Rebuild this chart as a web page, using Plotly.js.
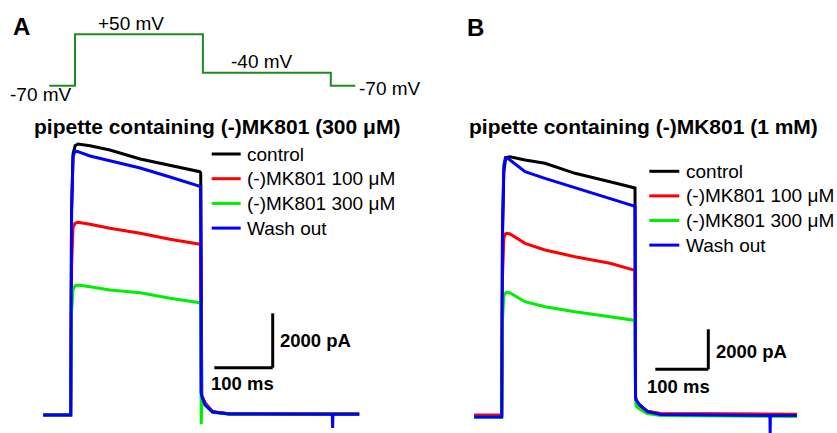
<!DOCTYPE html>
<html>
<head>
<meta charset="utf-8">
<script src="https://cdn.plot.ly/plotly-3.0.1.min.js"></script>
<style>html,body{margin:0;padding:0;background:#fff;}#chart{width:837px;height:433px;}</style>
</head>
<body>
<div id="chart"></div>
<script>
// ---------- DATA ----------
// Voltage protocol (ms, mV)
const protocolTime = [-44, 0, 0, 219, 219, 438, 438, 480];
const protocolVoltage = [-70, -70, 50, 50, -40, -40, -70, -70];
const protocolLabels = ["+50 mV", "-40 mV", "-70 mV", "-70 mV"];

const seriesNames = ["control", "(-)MK801 100 \u03bcM", "(-)MK801 300 \u03bcM", "Wash out"];
const seriesColors = ["#000000", "#ff0000", "#00ee00", "#0000ff"];

// Panel A: pipette containing (-)MK801 (300 uM); time (ms), current (pA)
const timeA = [-47, 0, 1.5, 4, 7.5, 12.5, 33, 67, 119, 170, 221, 222.6, 223.5, 224.5, 230, 243, 272, 448, 448.5, 449, 494];
const controlA = [0, 0, 7500, 9600, 9900, 9963, 9901, 9743, 9412, 9191, 8945, 8900, 820, 700, 440, 120, 40, 35, 35, 35, 35];
const mk100A   = [0, 0, 5500, 6900, 7050, 7085, 7011, 6864, 6680, 6460, 6276, 6250, 820, 700, 440, 120, 45, 40, 40, 40, 40];
const mk300A   = [0, 0, 3800, 4600, 4750, 4779, 4717, 4596, 4496, 4290, 4129, 4100, -340, 500, 380, 100, 30, 25, 25, 25, 25];
const washA    = [0, 0, 7500, 9500, 9706, 9680, 9522, 9357, 9081, 8750, 8430, 8400, 810, 690, 370, 110, 37, 30, -480, 30, 30];

// Panel B: pipette containing (-)MK801 (1 mM)
const timeB = [-52, 0, 1.5, 4, 7, 10, 15.7, 44, 81.7, 138.3, 204.3, 251, 251.5, 252.5, 253.5, 260, 275, 300, 506, 506.5, 507, 557];
const controlB = [0, 0, 9000, 12200, 12800, 12930, 12965, 12800, 12635, 12135, 11715, 11415, 11400, 950, 800, 550, 220, 100, 60, 60, 60, 60];
const mk100B   = [50, 50, 7000, 8900, 9100, 9135, 9100, 8635, 8300, 7965, 7635, 7300, 7280, 950, 800, 560, 240, 130, 90, 90, 90, 90];
const mk300B   = [-60, -60, 4800, 6000, 6150, 6185, 6150, 5715, 5465, 5215, 4965, 4800, 4780, 900, 500, 350, 120, 20, -30, -30, -30, -30];
const washB    = [-50, -50, 9500, 12500, 12915, 12900, 12800, 12215, 11885, 11415, 10885, 10500, 10480, 950, 800, 550, 220, 80, 20, -850, 20, 20];

const titleA = "pipette containing (-)MK801 (300 \u03bcM)";
const titleB = "pipette containing (-)MK801 (1 mM)";
const scaleTime = 100;   // ms
const scaleCurrent = 2000; // pA
const scaleTimeLabel = "100 ms";
const scaleCurrentLabel = "2000 pA";

// ---------- LAYOUT HELPERS ----------
const W = 837, H = 433;
const FONT = "Liberation Sans, Arial, Helvetica, sans-serif";
function xRange(px0, pxPerUnit) { return [(0 - px0) / pxPerUnit, (W - px0) / pxPerUnit]; }
function yRange(py0, pxPerUnit) { return [(py0 - H) / pxPerUnit, py0 / pxPerUnit]; }
function px(x) { return x / W; }
function py(y) { return 1 - y / H; }
function hidden(extra) { return Object.assign({visible: false, domain: [0, 1], fixedrange: true}, extra); }

// pixel mappings
const A = {x0: 70.7, sx: 0.584, y0: 415, sy: 0.0272};
const B = {x0: 501.7, sx: 0.53, y0: 416, sy: 0.020};
const P = {x0: 75, sx: 0.584, y0: 85.7 - 70 * 0.428, sy: 0.428};
const LW = 3;

const traces = [];
traces.push({x: protocolTime, y: protocolVoltage, xaxis: 'x3', yaxis: 'y3', mode: 'lines',
  line: {color: '#1f8a1f', width: 2}, showlegend: false, hoverinfo: 'skip'});

const dataA = [controlA, mk100A, mk300A, washA];
const dataB = [controlB, mk100B, mk300B, washB];
dataA.forEach((ys, i) => traces.push({x: timeA, y: ys, xaxis: 'x', yaxis: 'y', mode: 'lines', name: seriesNames[i],
  line: {color: seriesColors[i], width: LW}, showlegend: false}));
dataB.forEach((ys, i) => traces.push({x: timeB, y: ys, xaxis: 'x2', yaxis: 'y2', mode: 'lines', name: seriesNames[i],
  line: {color: seriesColors[i], width: LW}, showlegend: false}));

function ann(text, x, y, size, bold, xanchor) {
  return {text: bold ? '<b>' + text + '</b>' : text, x: px(x), y: py(y), xref: 'paper', yref: 'paper',
    xanchor: xanchor || 'center', yanchor: 'middle', showarrow: false, borderpad: 0,
    font: {family: FONT, size: size, color: '#000'}};
}

// scale bar corners (in each panel's data units)
const cornerA = {t: (272.7 - A.x0) / A.sx, i: (A.y0 - 367.7) / A.sy};
const cornerB = {t: (708.3 - B.x0) / B.sx, i: (B.y0 - 369.3) / B.sy};
function scaleBar(c, xr, yr) {
  return [
    {type: 'line', xref: xr, yref: yr, x0: c.t - scaleTime, x1: c.t, y0: c.i, y1: c.i, line: {color: '#000', width: 3}},
    {type: 'line', xref: xr, yref: yr, x0: c.t, x1: c.t, y0: c.i, y1: c.i + scaleCurrent, line: {color: '#000', width: 3}}
  ];
}

// legends (drawn as keys: line sample + label)
function legendKey(lineX0, lineX1, textX, rowY0, rowGap) {
  const shapes = [], anns = [];
  seriesNames.forEach((name, i) => {
    const y = rowY0 + i * rowGap;
    shapes.push({type: 'line', xref: 'paper', yref: 'paper', x0: px(lineX0), x1: px(lineX1), y0: py(y), y1: py(y),
      line: {color: seriesColors[i], width: LW}});
    anns.push(ann(name, textX, y, 19, false, 'left'));
  });
  return {shapes, anns};
}
const legA = legendKey(211.7, 240.7, 245.5, 154, 24.7);
const legB = legendKey(649.3, 679.3, 684.5, 171.3, 24.6);

const layout = {
  width: W, height: H, margin: {l: 0, r: 0, t: 0, b: 0},
  paper_bgcolor: '#fff', plot_bgcolor: 'rgba(0,0,0,0)',
  showlegend: false,
  xaxis: hidden({range: xRange(A.x0, A.sx)}),
  yaxis: hidden({range: yRange(A.y0, A.sy)}),
  xaxis2: hidden({range: xRange(B.x0, B.sx), anchor: 'y2'}),
  yaxis2: hidden({range: yRange(B.y0, B.sy), anchor: 'x2'}),
  xaxis3: hidden({range: xRange(P.x0, P.sx), anchor: 'y3'}),
  yaxis3: hidden({range: yRange(P.y0, P.sy), anchor: 'x3'}),
  shapes: scaleBar(cornerA, 'x', 'y').concat(scaleBar(cornerB, 'x2', 'y2'), legA.shapes, legB.shapes),
  annotations: [
    ann('A', 21, 26, 24, true),
    ann('B', 475.5, 27, 24, true),
    ann(protocolLabels[0], 131, 23, 19, false),
    ann(protocolLabels[1], 261.5, 62, 19, false),
    ann(protocolLabels[2], 40.8, 94, 19, false),
    ann(protocolLabels[3], 390.3, 88, 19, false),
    ann(titleA, 216.5, 127, 21, true),
    ann(titleB, 643.3, 127, 21, true),
    ann(scaleCurrentLabel, 279, 340.7, 18.5, true, 'left'),
    ann(scaleTimeLabel, 210, 383.3, 18.5, true, 'left'),
    ann(scaleCurrentLabel, 715, 351.7, 18.5, true, 'left'),
    ann(scaleTimeLabel, 645.7, 386.7, 18.5, true, 'left')
  ].concat(legA.anns, legB.anns)
};

Plotly.newPlot('chart', traces, layout, {displayModeBar: false, staticPlot: true});
</script>
</body>
</html>
